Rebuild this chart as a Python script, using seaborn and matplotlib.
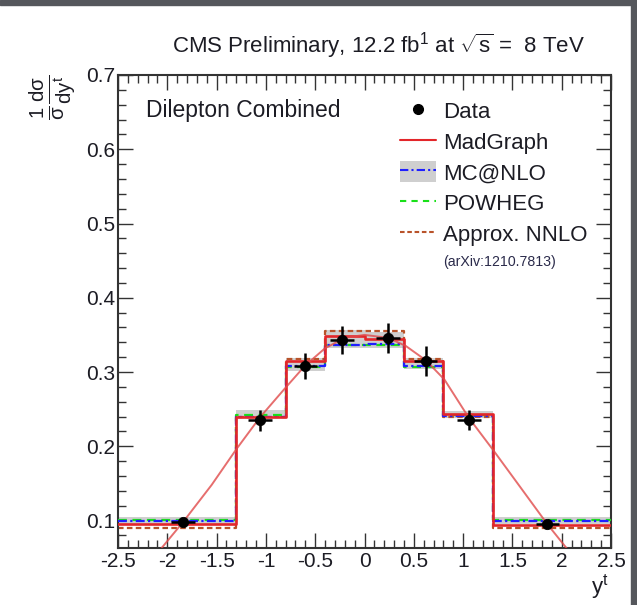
import numpy as np
import matplotlib
matplotlib.use("Agg")
import matplotlib.pyplot as plt
from matplotlib.lines import Line2D
from matplotlib.patches import Patch, Rectangle
from matplotlib.ticker import MultipleLocator, FuncFormatter
import seaborn as sns

# ---------------- data ----------------
bin_edges = [-2.5, -1.3, -0.8, -0.4, 0.0, 0.4, 0.8, 1.3, 2.5]
bin_centers = [-1.9, -1.05, -0.6, -0.2, 0.2, 0.6, 1.05, 1.9]

madgraph = [0.095, 0.240, 0.315, 0.348, 0.345, 0.3155, 0.243, 0.0946]
mcatnlo = [0.0996, 0.239, 0.3077, 0.337, 0.338, 0.3085, 0.2405, 0.100]
mcatnlo_lo = [0.0955, 0.2375, 0.3015, 0.333, 0.332, 0.3045, 0.2375, 0.0955]
mcatnlo_hi = [0.105, 0.2485, 0.3195, 0.357, 0.354, 0.319, 0.2475, 0.105]
powheg = [0.101, 0.242, 0.3067, 0.3368, 0.3368, 0.3067, 0.242, 0.101]
nnlo = [0.090, 0.240, 0.317, 0.355, 0.355, 0.317, 0.240, 0.0895]

data_x = [-1.84, -1.06, -0.60, -0.23, 0.24, 0.62, 1.06, 1.855]
data_y = [0.0976, 0.235, 0.308, 0.3435, 0.346, 0.315, 0.236, 0.0949]
data_yerr = [0.004, 0.014, 0.018, 0.019, 0.020, 0.020, 0.0135, 0.004]
data_xerr = [0.12, 0.12, 0.12, 0.12, 0.12, 0.12, 0.12, 0.12]

curve_x = [-2.07, -1.84, -1.55, -1.3, -1.06, -0.8, -0.6, -0.4, -0.2, 0.0,
           0.24, 0.42, 0.62, 0.81, 1.06, 1.31, 1.58, 1.855, 2.06]
curve_y = [0.061, 0.098, 0.148, 0.196, 0.239, 0.279, 0.309, 0.332, 0.346, 0.350,
           0.346, 0.335, 0.316, 0.290, 0.238, 0.194, 0.145, 0.095, 0.061]

x_ticks = [-2.5, -2, -1.5, -1, -0.5, 0, 0.5, 1, 1.5, 2, 2.5]
y_ticks = [0.1, 0.2, 0.3, 0.4, 0.5, 0.6, 0.7]

legend_labels = ["Data", "MadGraph", "MC@NLO", "POWHEG", "Approx. NNLO"]
title_text = "CMS Preliminary, 12.2 fb$^{1}$ at $\\sqrt{s}$ =  8 TeV"

# ---------------- style ----------------
sns.set_style("ticks")
plt.rcParams["font.family"] = ["Liberation Sans", "DejaVu Sans"]
plt.rcParams["mathtext.fontset"] = "custom"
plt.rcParams["mathtext.rm"] = "Liberation Sans"
plt.rcParams["mathtext.it"] = "Liberation Sans"
plt.rcParams["mathtext.sf"] = "Liberation Sans"
plt.rcParams["mathtext.bf"] = "Liberation Sans:bold"
plt.rcParams["axes.unicode_minus"] = False

TXT = "#1c1c24"
RED = "#e3262a"
BLUE = "#1f1fff"
GREEN = "#19e019"
BROWN = "#b9532a"
BAND = "#cfcfcf"

W, H = 637, 605
fig = plt.figure(figsize=(W / 100, H / 100), dpi=100)
fig.patch.set_facecolor("white")
fig.patches.append(Rectangle((0, 1 - 5 / H), 1, 5 / H, transform=fig.transFigure,
                             color="#55575c", zorder=0))
fig.patches.append(Rectangle((631 / W, 0), 6 / W, 1, transform=fig.transFigure,
                             color="#55575c", zorder=0))

ax = fig.add_axes([118 / W, 1 - 548 / H, 493 / W, 473 / H])
ax.set_facecolor("white")

# MC@NLO uncertainty band
ax.fill_between(bin_edges, mcatnlo_lo + [mcatnlo_lo[-1]], mcatnlo_hi + [mcatnlo_hi[-1]],
                step="post", color=BAND, lw=0, zorder=1)

common = dict(bins=bin_edges, element="step", fill=False, ax=ax)
sns.histplot(x=bin_centers, weights=nnlo, color=BROWN, linewidth=1.6,
             linestyle=(0, (2.5, 1.5)), zorder=2, **common)
sns.histplot(x=bin_centers, weights=powheg, color=GREEN, linewidth=1.6,
             linestyle=(0, (4, 2.5)), zorder=3, **common)
sns.histplot(x=bin_centers, weights=mcatnlo, color=BLUE, linewidth=1.6,
             linestyle=(0, (4, 1.5, 1, 1.5)), zorder=4, **common)
sns.histplot(x=bin_centers, weights=madgraph, color=RED, linewidth=1.9,
             zorder=5, **common)

# smooth MadGraph curve
sns.lineplot(x=curve_x, y=curve_y, color="#e04a4a", linewidth=1.4, alpha=0.8,
             sort=False, ax=ax, zorder=6)

# data
ax.errorbar(data_x, data_y, xerr=data_xerr, yerr=data_yerr, fmt="none",
            ecolor="black", elinewidth=1.8, capsize=0, zorder=7)
sns.scatterplot(x=data_x, y=data_y, color="black", s=55, edgecolor="black",
                ax=ax, zorder=8)

ax.set_xlim(-2.5, 2.5)
ax.set_ylim(0.063, 0.7)
ax.set_xlabel("")
ax.set_ylabel("")

ax.xaxis.set_major_locator(MultipleLocator(0.5))
ax.xaxis.set_minor_locator(MultipleLocator(0.1))
ax.yaxis.set_major_locator(MultipleLocator(0.1))
ax.yaxis.set_minor_locator(MultipleLocator(0.02))
ax.set_xticks(x_ticks)
ax.set_yticks(y_ticks)
ax.xaxis.set_major_formatter(FuncFormatter(lambda v, p: "%g" % v))
ax.yaxis.set_major_formatter(FuncFormatter(lambda v, p: "%.1f" % v))

ax.tick_params(which="both", direction="in", top=True, right=True, color="#333333",
               labelcolor=TXT, labelsize=15)
ax.tick_params(which="major", length=10.5, width=1.0)
ax.tick_params(which="minor", length=5.8, width=1.0)
ax.tick_params(axis="y", which="major", pad=2)
ax.tick_params(axis="x", which="major", pad=3)
for s in ax.spines.values():
    s.set_linewidth(1.5)
    s.set_color("#333333")
    s.set_visible(True)

# texts
fig.text(585 / W, 1 - 53 / H, title_text, ha="right", va="baseline",
         fontsize=16, color=TXT)
fig.text(146 / W, 1 - 117 / H, "Dilepton Combined", ha="left", va="baseline",
         fontsize=16.5, color=TXT)
fig.text(52 / W, 1 - 97 / H, r"$\frac{1}{\sigma}\frac{d\sigma}{dy^{t}}$", rotation=90,
         ha="center", va="center", fontsize=21, color=TXT)
fig.text(609 / W, 1 - 601 / H, "y$^{t}$", ha="right", va="bottom",
         fontsize=16, color=TXT)

# legend
handles = [
    Line2D([], [], marker="o", color="black", linestyle="none", markersize=7),
    Line2D([], [], color=RED, lw=1.5),
    (Patch(facecolor=BAND, edgecolor="none"),
     Line2D([], [], color=BLUE, lw=1.5, linestyle=(0, (4, 1.5, 1, 1.5)))),
    Line2D([], [], color=GREEN, lw=1.5, linestyle=(0, (3, 2.5))),
    Line2D([], [], color=BROWN, lw=1.5, linestyle=(0, (2.2, 1.3))),
]
leg = fig.legend(handles, legend_labels, loc="upper left",
                 bbox_to_anchor=(400 / W, 1 - 100 / H), bbox_transform=fig.transFigure,
                 frameon=False, fontsize=16, borderpad=0, borderaxespad=0,
                 handlelength=1.62, handleheight=1.05, handletextpad=0.3,
                 labelspacing=0.35)
for t in leg.get_texts():
    t.set_color(TXT)
fig.text(443 / W, 1 - 262 / H, "(arXiv:1210.7813)", ha="left", va="center",
         fontsize=10.2, color="#2a2a4a")

fig.savefig("out.png", dpi=100)
